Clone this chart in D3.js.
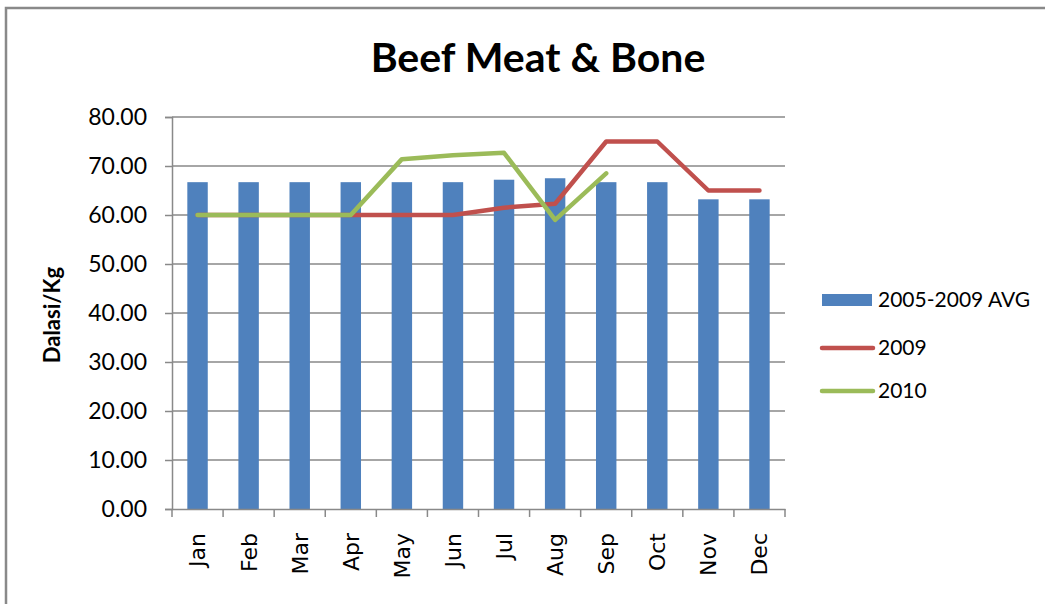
<!DOCTYPE html>
<html>
<head>
<meta charset="utf-8">
<script src="https://cdn.jsdelivr.net/npm/d3@7/dist/d3.min.js"></script>
<style>
  body { margin: 0; background: #fff; }
  svg { display: block; }
</style>
</head>
<body>
<svg id="chart" width="1045" height="604"></svg>
<script>
// data
const months = ["Jan", "Feb", "Mar", "Apr", "May", "Jun", "Jul", "Aug", "Sep", "Oct", "Nov", "Dec"];
const avg0509 = [66.7, 66.7, 66.7, 66.7, 66.7, 66.7, 67.2, 67.5, 66.7, 66.7, 63.2, 63.2];
const y2009 = [60, 60, 60, 60, 60, 60, 61.5, 62.3, 75, 75, 65, 65];
const y2010 = [60, 60, 60, 60, 71.4, 72.2, 72.7, 59.0, 68.5];
const yTicks = [0, 10, 20, 30, 40, 50, 60, 70, 80];

const svg = d3.select("#chart");
const margin = { top: 117, left: 172 };
const innerWidth = 785 - margin.left;
const innerHeight = 509 - margin.top;
const font = "Lato, 'Open Sans', sans-serif";

// outer frame (only top and left edges are visible in the picture)
svg.append("path")
  .attr("d", "M6,604 V8 H1045")
  .attr("fill", "none")
  .attr("stroke", "#898989")
  .attr("stroke-width", 2.5);

svg.append("text")
  .attr("x", 538).attr("y", 72)
  .attr("text-anchor", "middle")
  .style("font-family", font)
  .style("font-weight", "bold")
  .style("font-size", "41px")
  .text("Beef Meat & Bone");

const g = svg.append("g").attr("transform", `translate(${margin.left},${margin.top})`);

const x = d3.scaleBand().domain(months).range([0, innerWidth]).padding(0);
const y = d3.scaleLinear().domain([0, 80]).range([innerHeight, 0]);

// gridlines
g.append("g")
  .selectAll("line")
  .data(yTicks.filter(d => d > 0))
  .enter().append("line")
  .attr("x1", 0).attr("x2", innerWidth)
  .attr("y1", d => y(d)).attr("y2", d => y(d))
  .attr("stroke", "#898989")
  .attr("stroke-width", 1.5);

// bars
const barW = x.bandwidth() * 0.4;
g.selectAll(".bar")
  .data(avg0509)
  .enter().append("rect")
  .attr("class", "bar")
  .attr("x", (d, i) => x(months[i]) + (x.bandwidth() - barW) / 2)
  .attr("width", barW)
  .attr("y", d => y(d))
  .attr("height", d => innerHeight - y(d))
  .attr("fill", "#4F81BD");

// y axis
const yAxis = g.append("g")
  .call(d3.axisLeft(y).tickValues(yTicks).tickSize(7).tickFormat(d3.format(".2f")));
yAxis.select(".domain").attr("stroke", "#898989").attr("stroke-width", 1.5);
yAxis.selectAll(".tick line").attr("stroke", "#898989").attr("stroke-width", 1.5);
yAxis.selectAll(".tick text")
  .attr("x", -25)
  .style("font-family", font)
  .style("font-size", "23px")
  .attr("fill", "#000");

// x axis
const xAxis = g.append("g")
  .attr("transform", `translate(0,${innerHeight})`)
  .call(d3.axisBottom(x).tickSize(0).tickPadding(0));
xAxis.select(".domain").attr("stroke", "#898989").attr("stroke-width", 1.5);
xAxis.selectAll(".tick text")
  .attr("transform", "rotate(-90)")
  .attr("x", -24).attr("y", 0).attr("dy", "0.36em")
  .style("text-anchor", "end")
  .style("font-family", "'DejaVu Sans', sans-serif")
  .style("font-size", "22px")
  .attr("fill", "#000");
g.append("g")
  .attr("transform", `translate(0,${innerHeight})`)
  .selectAll("line")
  .data(months.concat(["end"]))
  .enter().append("line")
  .attr("x1", (d, i) => i * x.step()).attr("x2", (d, i) => i * x.step())
  .attr("y1", 0).attr("y2", 8)
  .attr("stroke", "#898989")
  .attr("stroke-width", 1.5);

// lines
const line = d3.line()
  .x((d, i) => x(months[i]) + x.bandwidth() / 2)
  .y(d => y(d));

g.append("path")
  .datum(y2009)
  .attr("fill", "none")
  .attr("stroke", "#C0504D")
  .attr("stroke-width", 4.5)
  .attr("stroke-linecap", "round")
  .attr("stroke-linejoin", "round")
  .attr("d", line);

g.append("path")
  .datum(y2010)
  .attr("fill", "none")
  .attr("stroke", "#9BBB59")
  .attr("stroke-width", 4.5)
  .attr("stroke-linecap", "round")
  .attr("stroke-linejoin", "round")
  .attr("d", line);

// y axis title
svg.append("text")
  .attr("transform", "translate(60,315) rotate(-90)")
  .attr("text-anchor", "middle")
  .style("font-family", font)
  .style("font-weight", "bold")
  .style("font-size", "22px")
  .text("Dalasi/Kg");

// legend
const legend = svg.append("g").attr("transform", "translate(822,0)");
const items = [
  { name: "2005-2009 AVG", color: "#4F81BD", type: "rect", y: 300 },
  { name: "2009", color: "#C0504D", type: "line", y: 348 },
  { name: "2010", color: "#9BBB59", type: "line", y: 391 }
];
items.forEach(it => {
  if (it.type === "rect") {
    legend.append("rect")
      .attr("x", 0).attr("y", it.y - 6)
      .attr("width", 50).attr("height", 12)
      .attr("fill", it.color);
  } else {
    legend.append("line")
      .attr("x1", 0).attr("x2", 51)
      .attr("y1", it.y).attr("y2", it.y)
      .attr("stroke", it.color)
      .attr("stroke-width", 4.5)
      .attr("stroke-linecap", "round");
  }
  legend.append("text")
    .attr("x", 56).attr("y", it.y)
    .attr("dy", "0.35em")
    .style("font-family", font)
    .style("font-size", "21px")
    .text(it.name);
});
</script>
</body>
</html>
